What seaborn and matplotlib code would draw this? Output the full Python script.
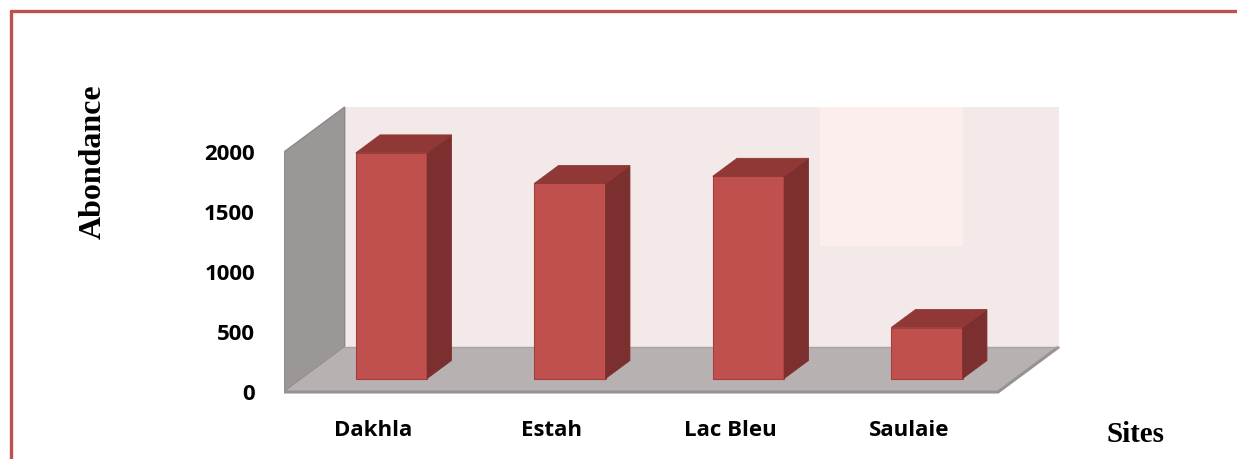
import matplotlib
matplotlib.use("Agg")
import matplotlib.pyplot as plt
import matplotlib.transforms as mtransforms
from matplotlib.patches import Polygon, Rectangle
from matplotlib.lines import Line2D
import seaborn as sns

# Abundance per sampling site
sites = ["Dakhla", "Estah", "Lac Bleu", "Saulaie"]
abondance = [1880, 1625, 1685, 425]
y_ticks = [0, 500, 1000, 1500, 2000]

# Colours of the 3-D look
front_col = "#c0504d"
top_col = "#8f3836"
side_col = "#7b2f2e"
edge_col = "#a33f3c"
back_wall_col = "#f4e9e9"
left_wall_col = "#9c9797"
floor_col = "#b8b1b1"
frame_col = "#c0504d"

sns.set_theme(style="white")
plt.rcParams["font.family"] = ["Open Sans", "DejaVu Sans"]

W, H = 1237, 459
fig = plt.figure(figsize=(W / 100, H / 100), dpi=100)

# Oblique projection: depth of the box in data units
DEPTH_X = 0.34       # category units
DEPTH_Y = 375.0      # value units
YMAX = 2000.0
XMIN, XMAX = -0.5, len(sites) - 0.5

# Axes placement (pixels -> figure fraction)
px_left, px_per_cat = 284, 178.5
px_zero, px_per_val = 392, 0.12
ylo, yhi = -25, YMAX + DEPTH_Y + 25
xhi = XMAX + DEPTH_X + 0.02
ax_left = px_left / W
ax_width = (xhi - XMIN) * px_per_cat / W
ax_bottom = (H - (px_zero + (-ylo) * px_per_val)) / H
ax_height = (yhi - ylo) * px_per_val / H
ax = fig.add_axes([ax_left, ax_bottom, ax_width, ax_height])

# Walls and floor of the 3-D box
back_wall = Rectangle((XMIN + DEPTH_X, DEPTH_Y), XMAX - XMIN, YMAX,
                      facecolor=back_wall_col, edgecolor="none", zorder=0.2)
ax.add_patch(back_wall)
ax.add_patch(Rectangle((2.503, 1217), 0.80, YMAX + DEPTH_Y - 1217,
                       facecolor="#fdeeee", edgecolor="none", zorder=0.25))
left_wall = Polygon([(XMIN, 0), (XMIN + DEPTH_X, DEPTH_Y),
                     (XMIN + DEPTH_X, YMAX + DEPTH_Y), (XMIN, YMAX)],
                    closed=True, facecolor=left_wall_col, edgecolor="#8c8888",
                    linewidth=1.0, zorder=0.3)
ax.add_patch(left_wall)
floor = Polygon([(XMIN, 0), (XMAX, 0), (XMAX + DEPTH_X, DEPTH_Y),
                 (XMIN + DEPTH_X, DEPTH_Y)],
                closed=True, facecolor=floor_col, edgecolor="none", zorder=0.4)
ax.add_patch(floor)
ax.plot([XMIN, XMAX, XMAX + DEPTH_X], [0, 0, DEPTH_Y], color="#979393",
        linewidth=2.2, solid_capstyle="butt", zorder=0.45)
ax.plot([XMIN + DEPTH_X, XMAX + DEPTH_X], [DEPTH_Y, DEPTH_Y], color="#a9a3a3",
        linewidth=1.0, zorder=0.45)

# Front faces of the columns
sns.barplot(x=sites, y=abondance, width=0.4, color=front_col, saturation=1,
            edgecolor=edge_col, linewidth=0.8, ax=ax, zorder=1)

# Columns stand in the middle of the depth
bar_front = 0.3
bar_depth = 0.4
shift = mtransforms.Affine2D().translate(bar_front * DEPTH_X, bar_front * DEPTH_Y)
shifted = shift + ax.transData
ddx, ddy = bar_depth * DEPTH_X, bar_depth * DEPTH_Y

bars = [p for p in ax.patches
        if isinstance(p, Rectangle) and p.get_zorder() == 1]
for bar in bars:
    bar.set_transform(shifted)
    x0 = bar.get_x()
    x1 = x0 + bar.get_width()
    h = bar.get_height()
    side = Polygon([(x1, 0), (x1 + ddx, ddy), (x1 + ddx, h + ddy), (x1, h)],
                   closed=True, facecolor=side_col, edgecolor=side_col,
                   linewidth=0.6, transform=shifted, zorder=1.1)
    top = Polygon([(x0, h), (x1, h), (x1 + ddx, h + ddy), (x0 + ddx, h + ddy)],
                  closed=True, facecolor=top_col, edgecolor=top_col,
                  linewidth=0.6, transform=shifted, zorder=1.2)
    ax.add_patch(side)
    ax.add_patch(top)

ax.set_xlim(XMIN, xhi)
ax.set_ylim(ylo, yhi)
ax.set_yticks(y_ticks)
ax.set_yticklabels([str(v) for v in y_ticks])
for s in ax.spines.values():
    s.set_visible(False)
ax.set_facecolor("none")
ax.tick_params(axis="both", length=0, labelsize=16)
ax.tick_params(axis="y", pad=21)
ax.tick_params(axis="x", pad=18)
for lab in ax.get_xticklabels() + ax.get_yticklabels():
    lab.set_fontweight("bold")
    lab.set_color("black")
ax.set_xlabel("")
ax.set_ylabel("")

# Axis titles
serif = ["Liberation Serif", "DejaVu Serif"]
fig.text(93 / W, 1 - 162 / H, "Abondance", rotation=90, ha="center", va="center",
         fontsize=23, fontweight="bold", family=serif, color="black")
fig.text(1136 / W, 1 - 435 / H, "Sites", ha="center", va="center",
         fontsize=21, fontweight="bold", family=serif, color="black")

# Page frame
fig.add_artist(Line2D([10.5 / W, 10.5 / W], [0, 1 - 11 / H], color=frame_col,
                      linewidth=2.4, transform=fig.transFigure))
fig.add_artist(Line2D([10.5 / W, 1], [1 - 11 / H, 1 - 11 / H], color=frame_col,
                      linewidth=2.4, transform=fig.transFigure))

fig.savefig("out.png", dpi=100, facecolor="white")
